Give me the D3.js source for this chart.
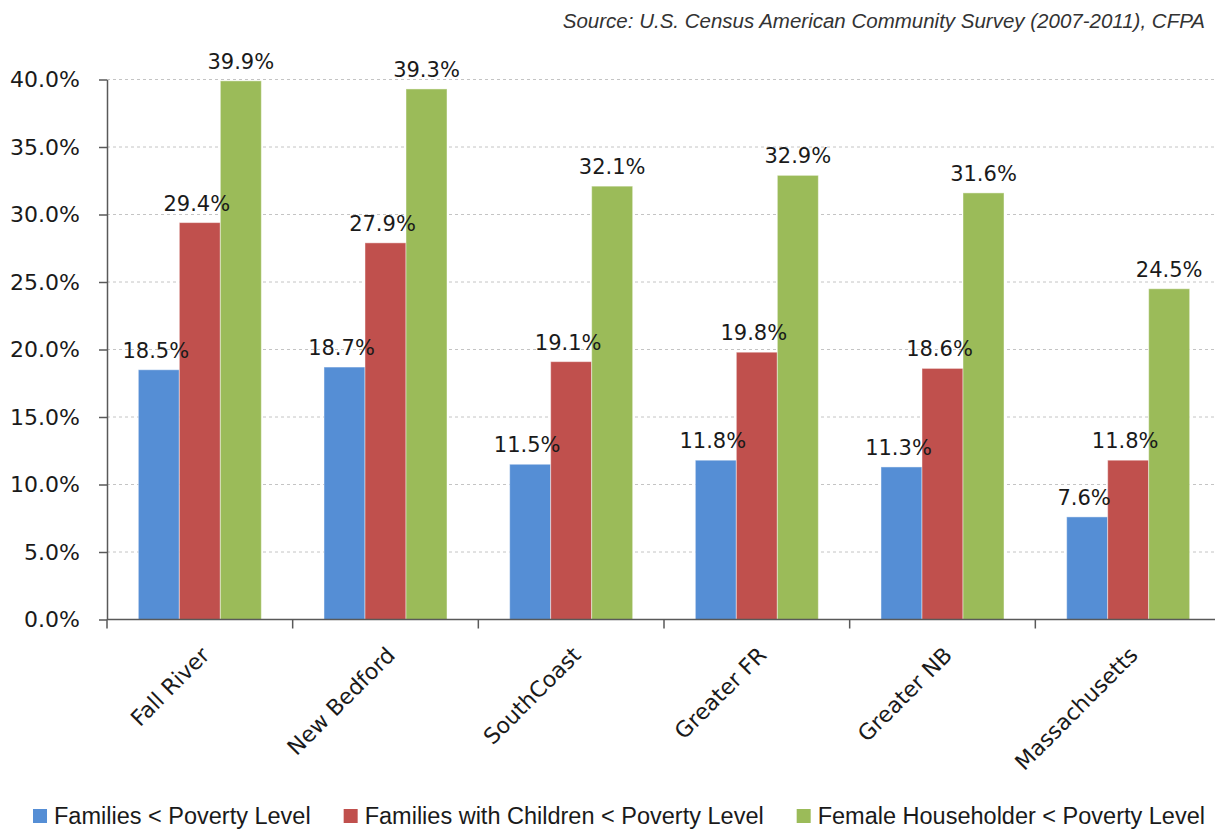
<!DOCTYPE html>
<html>
<head>
<meta charset="utf-8">
<script src="https://cdn.jsdelivr.net/npm/d3@7"></script>
<style>
  html, body { margin: 0; padding: 0; background: #ffffff; }
  svg { display: block; }
</style>
</head>
<body>
<svg id="chart" width="1215" height="829"></svg>
<script>
// Poverty rates by area (percent)
const categories = ["Fall River", "New Bedford", "SouthCoast", "Greater FR", "Greater NB", "Massachusetts"];
const seriesNames = [
  "Families < Poverty Level",
  "Families with Children < Poverty Level",
  "Female Householder < Poverty Level"
];
const familiesBelow = [18.5, 18.7, 11.5, 11.8, 11.3, 7.6];
const familiesChildrenBelow = [29.4, 27.9, 19.1, 19.8, 18.6, 11.8];
const femaleHouseholderBelow = [39.9, 39.3, 32.1, 32.9, 31.6, 24.5];
const yTicks = [0, 5, 10, 15, 20, 25, 30, 35, 40];
const sourceNote = "Source: U.S. Census American Community Survey (2007-2011), CFPA";

const seriesValues = [familiesBelow, familiesChildrenBelow, femaleHouseholderBelow];
const colors = ["#558ED5", "#C0504D", "#9BBB59"];

const svg = d3.select("#chart");
const W = 1215, H = 829;
const plot = { left: 107, right: 1221, top: 79.5, bottom: 619.5 };
const textColor = "#1a1a1a";
const axisColor = "#595959";

const x0 = d3.scaleBand().domain(categories).range([plot.left, plot.right]).padding(0);
const x1 = d3.scaleBand().domain(seriesNames).range([0, x0.bandwidth()])
  .paddingInner(0).paddingOuter(0.764);
const y = d3.scaleLinear().domain([0, 40]).range([plot.bottom, plot.top]);

// Horizontal dashed gridlines
svg.append("g").selectAll("line")
  .data(yTicks.filter(d => d > 0))
  .join("line")
  .attr("x1", plot.left).attr("x2", W)
  .attr("y1", d => y(d)).attr("y2", d => y(d))
  .attr("stroke", "#c4c4c4").attr("stroke-width", 1)
  .attr("stroke-dasharray", "3,3");

// Bars
const rows = categories.map((c, i) => ({
  cat: c,
  vals: seriesNames.map((s, j) => ({ s, j, v: seriesValues[j][i] }))
}));

const groups = svg.append("g").selectAll("g")
  .data(rows).join("g")
  .attr("transform", d => `translate(${x0(d.cat)},0)`);

groups.selectAll("rect")
  .data(d => d.vals).join("rect")
  .attr("x", d => x1(d.s))
  .attr("width", x1.bandwidth())
  .attr("y", d => y(d.v))
  .attr("height", d => y(0) - y(d.v))
  .attr("fill", d => colors[d.j])
  .attr("stroke", "rgba(255,255,255,0.45)")
  .attr("stroke-width", 1);

// Value labels
groups.selectAll("text")
  .data(d => d.vals).join("text")
  .attr("x", d => x1(d.s) + x1.bandwidth() / 2 - (d.j < 2 ? 3 : 0))
  .attr("y", d => y(d.v) - 12)
  .attr("text-anchor", "middle")
  .attr("font-family", "DejaVu Sans")
  .attr("font-size", 21)
  .attr("fill", textColor)
  .text(d => d.v.toFixed(1) + "%");

// Y axis
const yAxis = svg.append("g")
  .attr("transform", `translate(${plot.left},0)`)
  .call(d3.axisLeft(y).tickValues(yTicks)
    .tickFormat(d => d.toFixed(1) + "%")
    .tickSize(8).tickSizeOuter(0).tickPadding(19));
yAxis.select(".domain").attr("stroke", axisColor).attr("stroke-width", 1.5);
yAxis.selectAll(".tick line").attr("stroke", axisColor).attr("stroke-width", 1.5);
yAxis.selectAll(".tick text")
  .attr("font-family", "DejaVu Sans").attr("font-size", 22).attr("fill", textColor);

// X axis line and category boundary ticks
svg.append("line")
  .attr("x1", plot.left).attr("x2", W)
  .attr("y1", y(0)).attr("y2", y(0))
  .attr("stroke", axisColor).attr("stroke-width", 1.5);
svg.append("g").selectAll("line")
  .data(categories).join("line")
  .attr("x1", d => x0(d)).attr("x2", d => x0(d))
  .attr("y1", y(0)).attr("y2", y(0) + 9)
  .attr("stroke", axisColor).attr("stroke-width", 1.5);

// Rotated category labels
svg.append("g").selectAll("text")
  .data(categories).join("text")
  .attr("transform", d => `translate(${x0(d) + x0.bandwidth() / 2 + 11},${y(0) + 37}) rotate(-45)`)
  .attr("text-anchor", "end")
  .attr("font-family", "DejaVu Sans")
  .attr("font-size", 22)
  .attr("fill", textColor)
  .text(d => d);

// Source note
svg.append("text")
  .attr("x", 1205).attr("y", 28)
  .attr("text-anchor", "end")
  .attr("font-family", "Liberation Sans")
  .attr("font-style", "italic")
  .attr("font-size", 20.5)
  .attr("fill", "#333333")
  .text(sourceNote);

// Legend, centered beneath the chart
const legend = svg.append("g");
const items = legend.selectAll("g").data(seriesNames).join("g");
items.append("rect")
  .attr("width", 14).attr("height", 14)
  .attr("y", 809)
  .attr("fill", (d, i) => colors[i]);
items.append("text")
  .attr("x", 21).attr("y", 824)
  .attr("font-family", "Liberation Sans")
  .attr("font-size", 23.5)
  .attr("fill", textColor)
  .text(d => d);
const itemGap = 33;
let cursor = 0;
const offsets = [];
items.each(function () {
  const w = d3.select(this).select("text").node().getComputedTextLength();
  offsets.push(cursor);
  cursor += 21 + w + itemGap;
});
const total = cursor - itemGap;
const start = 619 - total / 2;
items.attr("transform", (d, i) => `translate(${start + offsets[i]},0)`);
</script>
</body>
</html>
